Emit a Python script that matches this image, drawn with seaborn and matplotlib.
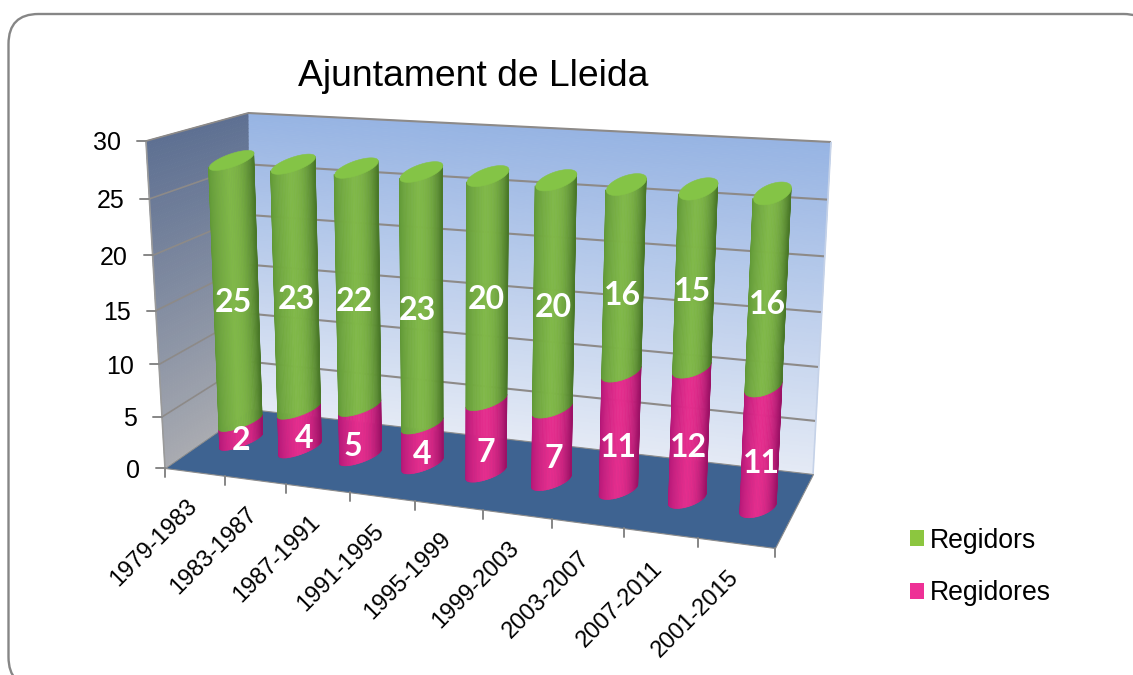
import numpy as np
import matplotlib
matplotlib.use("Agg")
import matplotlib.pyplot as plt
import seaborn as sns
from matplotlib.transforms import Transform, Affine2D
from matplotlib.collections import PolyCollection, LineCollection
from matplotlib.patches import FancyBboxPatch, Patch

PERIODS = ["1979-1983", "1983-1987", "1987-1991", "1991-1995", "1995-1999",
           "1999-2003", "2003-2007", "2007-2011", "2001-2015"]
REGIDORES = [2, 4, 5, 4, 7, 7, 11, 12, 11]
REGIDORS = [25, 23, 22, 23, 20, 20, 16, 15, 16]
Y_TICKS = [0, 5, 10, 15, 20, 25, 30]
TITLE = "Ajuntament de Lleida"

# hand placement of the data labels relative to the segment centres (pixels)
GREEN_NUDGE = [(-2, 6), (0, 8), (-3, 10), (-4, 8), (-1, 8), (-1, 10), (-1, 15), (-2, 11), (0, 12)]
PINK_NUDGE = [(0, 9), (5, 9), (-7, 15), (0, 10), (0, 15), (2, 13), (-1, 15), (-1, 13), (1, 15)]

W, H = 1133, 675
sns.set_theme(style="white")
plt.rcParams["font.family"] = ["Liberation Sans", "DejaVu Sans"]


class Plane(Transform):
    """Bilinear map of a (x, value) rectangle onto a quad, with foreshortening."""
    input_dims = output_dims = 2
    is_separable = False
    has_inverse = False

    def __init__(self, xmax, vmax, bl, br, tl, tr, k=1.0, c0=0.0, c1=0.0):
        super().__init__()
        self.xmax, self.vmax, self.k, self.c0, self.c1 = xmax, vmax, k, c0, c1
        self.q = [np.array(p, float)[None, :] for p in (bl, br, tl, tr)]

    def transform_non_affine(self, values):
        v = np.asarray(values, float)
        u = v[:, 0] / self.xmax
        d = u + self.k * (1 - u)
        s = np.where(np.abs(d) > 1e-9, u / d, 0.0)
        g = v[:, 1] / self.vmax
        c = self.c0 * (1 - s) + self.c1 * s
        g = g - c * g * (1 - g)
        s = s[:, None]
        g = g[:, None]
        return (self.q[0] * (1 - s) + self.q[1] * s) * (1 - g) + (self.q[2] * (1 - s) + self.q[3] * s) * g


fig = plt.figure(figsize=(W / 100, H / 100), dpi=100, facecolor="white")
ax = fig.add_axes([0, 0, 1, 1])
TP = Affine2D().scale(1, -1).translate(0, H)   # image pixels -> display

# chart planes (scene geometry of the 3-D box)
P_BARS = Plane(8, 27, (241, 441), (758, 508), (231, 160), (772, 193), k=1.11, c0=.09, c1=.09)
P_BACK = Plane(1, 30, (250, 409), (813, 474), (248, 113), (831, 142), c0=.05, c1=.05)
P_LEFT = Plane(1, 30, (165, 468), (250, 409), (146, 141), (248, 113), c0=.075, c1=.05)
P_FLOOR = Plane(9, 1, (165, 468), (775, 548), (250, 409), (813, 474), k=1.15)

# stacked bars through seaborn; their geometry feeds the cylinders
sns.barplot(x=PERIODS, y=REGIDORES, color="#e32c8c", errorbar=None, ax=ax, width=0.7)
sns.barplot(x=PERIODS, y=REGIDORS, bottom=REGIDORES, color="#7db445", errorbar=None, ax=ax, width=0.7)
bars = list(ax.patches)
for b in bars:
    b.set_visible(False)
n = len(PERIODS)
pink_bars, green_bars = bars[:n], bars[n:]
ax.set_xlim(0, W); ax.set_ylim(H, 0)
ax.set_xlabel(""); ax.set_ylabel("")
ax.axis("off")
ax.grid(False)


def lerp(c0, c1, t):
    return np.asarray(c0, float) * (1 - t) + np.asarray(c1, float) * t


def hexrgb(h):
    return np.array(matplotlib.colors.to_rgb(h))


def wall(plane, x0, x1, ytop, c_top, c_bot, z=1, steps=80):
    verts, cols = [], []
    for k in range(steps):
        a, b = ytop * k / steps, ytop * (k + 1) / steps
        verts.append([(x0, a), (x1, a), (x1, b), (x0, b)])
        cols.append(lerp(hexrgb(c_bot), hexrgb(c_top), (k + .5) / steps))
    ax.add_collection(PolyCollection(verts, facecolors=cols, edgecolors=cols, linewidths=.6,
                                     transform=plane + TP, zorder=z), autolim=False)


# outer frame: runs off the right and bottom of the picture
ax.add_patch(FancyBboxPatch((8.5, 14), 1145, 673, boxstyle="round,pad=0,rounding_size=30",
                            fc="white", ec="#868686", lw=1.7, transform=TP, zorder=0, clip_on=True))

wall(P_BACK, 0, 1, 30, "#97b4e3", "#e4eaf5")
wall(P_LEFT, 0, 1, 30, "#5e7092", "#a9abb1")
ax.add_collection(PolyCollection([[(0, 0), (9, 0), (9, 1), (0, 1)]], facecolors="#3e6391", edgecolors="#8c8c8c",
                                 linewidths=.8, transform=P_FLOOR + TP, zorder=1.5), autolim=False)

GRID = "#8d8a88"
ax.add_collection(LineCollection([[(0, v), (1, v)] for v in Y_TICKS if v > 0], colors=GRID, linewidths=1.5,
                                 transform=P_BACK + TP, zorder=2), autolim=False)
ax.add_collection(LineCollection([[(0, v), (1, v)] for v in Y_TICKS if v > 0], colors=GRID, linewidths=1.2,
                                 transform=P_LEFT + TP, zorder=2), autolim=False)
ax.add_collection(LineCollection([[(0, 0), (0, 30)]], colors="#9a9a9a", linewidths=1.2,
                                 transform=P_LEFT + TP, zorder=2), autolim=False)
ax.add_collection(LineCollection([[(1, 0), (1, 30)]], colors="#c5d2e8", linewidths=1.2,
                                 transform=P_BACK + TP, zorder=2), autolim=False)

# axis ticks and their labels
TICK_COL = "#868686"
for v in Y_TICKS:
    x, y = P_LEFT.transform([(0, v)])[0]
    ax.plot([x - 9, x], [y, y], color=TICK_COL, lw=1.4, transform=TP, zorder=2, clip_on=False)
    ax.text(x - 25, y, str(v), ha="right", va="center_baseline", fontsize=18, color="black",
            transform=TP, zorder=6)
for i in range(n + 1):
    x, y = P_FLOOR.transform([(i, 0)])[0]
    ax.plot([x, x], [y, y + 9], color=TICK_COL, lw=1.4, transform=TP, zorder=2)
for i, lab in enumerate(PERIODS):
    x, y = P_FLOOR.transform([(i + .5, 0)])[0]
    ax.text(x - 41, y + 71, lab, rotation=45, ha="center", va="center",
            fontsize=17, color="black", transform=TP, zorder=6)


# cylinders
def half_width(i):
    return lerp(.375, .25, i / (n - 1))


def offset(v, t, i, sign=-1):
    top = v / 27
    tilt = lerp(lerp(1.1, .68, i / (n - 1)), lerp(.77, .5, i / (n - 1)), top)
    bulge = lerp(.6, .8, i / (n - 1))
    return v + tilt * t + sign * bulge * np.sqrt(np.clip(1 - t * t, 0, 1))


TS = -np.cos(np.linspace(0, np.pi, 41))


def cylinder(i, v0, v1, left, mid, right, z):
    hw = half_width(i)
    verts, cols = [], []
    for a, b in zip(TS[:-1], TS[1:]):
        verts.append([(i + a * hw, offset(v0, a, i)), (i + b * hw, offset(v0, b, i)),
                      (i + b * hw, offset(v1, b, i)), (i + a * hw, offset(v1, a, i))])
        m = (a + b) / 2
        if m < -.1:
            c = lerp(hexrgb(left), hexrgb(mid), ((m + 1) / .9) ** .6)
        else:
            c = lerp(hexrgb(mid), hexrgb(right), ((m + .1) / 1.1) ** 2.2)
        cols.append(c)
    ax.add_collection(PolyCollection(verts, facecolors=cols, edgecolors=cols, linewidths=.5,
                                     transform=P_BARS + TP, zorder=z), autolim=False)


for i, (pb, gb) in enumerate(zip(pink_bars, green_bars)):
    cx = pb.get_x() + pb.get_width() / 2
    i0 = int(round(cx))
    cylinder(i0, pb.get_y(), pb.get_y() + pb.get_height(), "#b01676", "#e52d8d", "#9c1266", 3 + i * .01)
    cylinder(i0, gb.get_y(), gb.get_y() + gb.get_height(), "#5f9636", "#80b848", "#4a7829", 3.2 + i * .01)
    vt = gb.get_y() + gb.get_height()
    hw = half_width(i0)
    tt = np.linspace(-1, 1, 60)
    cap = [(i0 + t * hw, offset(vt, t, i0, -1)) for t in tt] + \
          [(i0 + t * hw, offset(vt, t, i0, 1)) for t in tt[::-1]]
    ax.add_collection(PolyCollection([cap], facecolors="#84c446", edgecolors="#84c446", linewidths=.4,
                                     transform=P_BARS + TP, zorder=3.4), autolim=False)

# data labels
for i0, (pb, gb) in enumerate(zip(pink_bars, green_bars)):
    for b, val, (dx, dy) in ((pb, REGIDORES[i0], PINK_NUDGE[i0]), (gb, REGIDORS[i0], GREEN_NUDGE[i0])):
        x, y = P_BARS.transform([(i0, b.get_y() + b.get_height() / 2)])[0]
        ax.text(x + dx, y + dy, str(val), ha="center", va="center", fontsize=23, fontweight="bold",
                family=["Lato", "DejaVu Sans"], color="white", transform=TP, zorder=7)

ax.text(473, 76, TITLE, ha="center", va="center", fontsize=26.8, color="black", transform=TP, zorder=6)

handles = [Patch(facecolor="#8cc63f", edgecolor="none", label="Regidors"),
           Patch(facecolor="#ee3196", edgecolor="none", label="Regidores")]
fig.legend(handles=handles, loc="center left", bbox_to_anchor=(897 / W, 1 - 567 / H), frameon=False,
           fontsize=19.2, handlelength=.52, handleheight=.52, handletextpad=.22, labelspacing=1.0,
           borderpad=0, labelcolor="black")

fig.savefig("out.png", dpi=100, facecolor="white")
